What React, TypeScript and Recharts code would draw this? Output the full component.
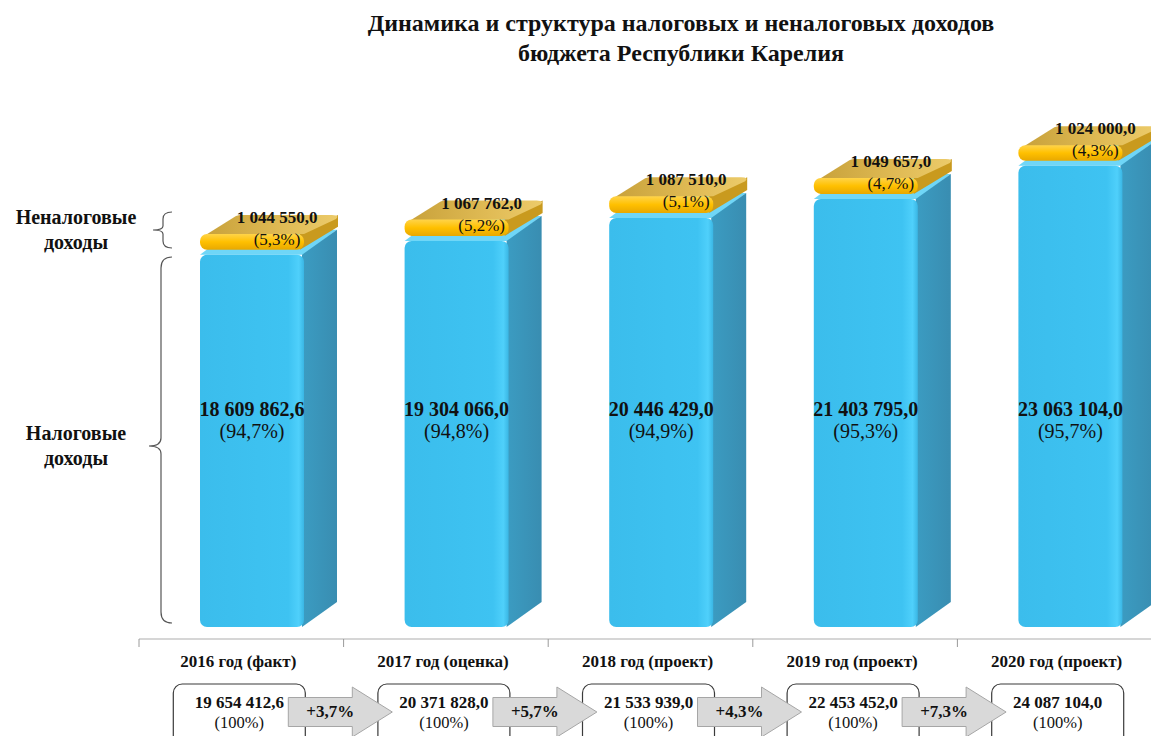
import { BarChart, Bar, XAxis, YAxis, LabelList } from 'recharts';

const categories = ['2016 год (факт)', '2017 год (оценка)', '2018 год (проект)', '2019 год (проект)', '2020 год (проект)'];
const taxIncome = [18609862.6, 19304066.0, 20446429.0, 21403795.0, 23063104.0];
const nonTaxIncome = [1044550.0, 1067762.0, 1087510.0, 1049657.0, 1024000.0];
const taxShare = [94.7, 94.8, 94.9, 95.3, 95.7];
const nonTaxShare = [5.3, 5.2, 5.1, 4.7, 4.3];
const totals = [19654412.6, 20371828.0, 21533939.0, 22453452.0, 24087104.0];
const growth = [3.7, 5.7, 4.3, 7.3];

const data = categories.map((name, i) => ({
  name,
  tax: taxIncome[i],
  nonTax: nonTaxIncome[i],
}));

const CHART_W = 1162;
const CHART_H = 736;
const MARGIN = { top: 39, right: 0, left: 139, bottom: 0 };
const BAND = (CHART_W - MARGIN.left - MARGIN.right) / categories.length;

// 3D projection offsets
const SHIFT_X = 11;
const SHIFT_Y = -12;
const DX = 33;
const DY = -25;

const SERIF = '"Liberation Serif", "Times New Roman", serif';

const fmt = (v: number) => {
  const [i, d] = v.toFixed(1).split('.');
  return i.replace(/\B(?=(\d{3})+(?!\d))/g, ' ') + ',' + d;
};
const pct = (v: number) => `(${v.toFixed(1).replace('.', ',')}%)`;

function TaxShape(props: any) {
  const { x, y, width, height } = props;
  if (height <= 0) return null;
  const fx = x + SHIFT_X;
  const fy = y + SHIFT_Y;
  const w = width;
  const h = height;
  return (
    <g>
      <polygon
        points={`${fx},${fy} ${fx + DX},${fy + DY} ${fx + w + DX},${fy + DY} ${fx + w},${fy}`}
        fill='#6fd6f7'
      />
      <polygon
        points={`${fx + w - 2},${fy} ${fx + w + DX},${fy + DY} ${fx + w + DX},${fy + h + DY} ${fx + w - 2},${fy + h}`}
        fill='url(#blueSide)'
      />
      <rect x={fx} y={fy} width={w} height={h} rx={7} fill='url(#blueFront)' />
    </g>
  );
}

function NonTaxShape(props: any) {
  const { x, y, width, height } = props;
  if (height <= 0) return null;
  const fx = x + SHIFT_X;
  const fy = y + SHIFT_Y;
  const w = width;
  const fh = height - 5;
  const gdx = 34;
  const gdy = -19;
  return (
    <g>
      <polygon
        points={`${fx + w - 4},${fy} ${fx + w + gdx},${fy + gdy} ${fx + w + gdx},${fy + gdy + fh - 4} ${fx + w - 4},${fy + fh}`}
        fill='#c99a1e'
      />
      <path
        d={`M${fx + 4},${fy + 2} L${fx + gdx + 2},${fy + gdy + 1} Q${fx + gdx + 4},${fy + gdy} ${fx + gdx + 8},${fy + gdy} L${fx + w + gdx - 6},${fy + gdy} Q${fx + w + gdx + 2},${fy + gdy} ${fx + w + gdx - 2},${fy + gdy + 4} L${fx + w},${fy} Z`}
        fill='url(#goldTop)'
      />
      <rect x={fx} y={fy} width={w} height={fh} rx={7} fill='url(#goldFront)' />
    </g>
  );
}

function TaxLabel(props: any) {
  const { x, width, index } = props;
  const cx = x + SHIFT_X + width / 2;
  return (
    <g fontFamily={SERIF} textAnchor='middle' fill='#111'>
      <text x={cx} y={416} fontSize={20} fontWeight='bold'>
        {fmt(taxIncome[index])}
      </text>
      <text x={cx} y={438} fontSize={20}>
        {pct(taxShare[index])}
      </text>
    </g>
  );
}

function NonTaxLabel(props: any) {
  const { x, y, width, index } = props;
  const cx = x + SHIFT_X + width / 2 + 25;
  const fy = y + SHIFT_Y;
  return (
    <g fontFamily={SERIF} textAnchor='middle' fill='#111'>
      <text x={cx} y={fy - 11} fontSize={17} fontWeight='bold'>
        {fmt(nonTaxIncome[index])}
      </text>
      <text x={cx} y={fy + 11} fontSize={17}>
        {pct(nonTaxShare[index])}
      </text>
    </g>
  );
}

function CategoryTick(props: any) {
  const { x, y, payload } = props;
  const i = payload.index;
  const c = x;
  const left = c - BAND / 2;
  const prev = c - BAND;
  const ay = y + 73;
  const start = prev + 47;
  const headStart = prev + 111;
  const tip = prev + 151;
  return (
    <g fontFamily={SERIF}>
      <line x1={left} y1={y} x2={left} y2={y + 8} stroke='#9a9a9a' />
      {i === categories.length - 1 && (
        <line x1={left + BAND} y1={y} x2={left + BAND} y2={y + 8} stroke='#9a9a9a' />
      )}
      <text x={c - 3} y={y + 28} textAnchor='middle' fontSize={17} fontWeight='bold' fill='#111'>
        {payload.value}
      </text>
      <rect x={c - 68} y={y + 45} width={132} height={70} rx={9} fill='#fff' stroke='#3a3a3a' strokeWidth={1.2} />
      <text x={c - 2} y={y + 69} textAnchor='middle' fontSize={17} fontWeight='bold' fill='#111'>
        {fmt(totals[i])}
      </text>
      <text x={c - 2} y={y + 89} textAnchor='middle' fontSize={16.5} fill='#111'>
        (100%)
      </text>
      {i > 0 && (
        <g>
          <polygon
            points={`${start},${ay - 14.5} ${headStart},${ay - 14.5} ${headStart},${ay - 25} ${tip},${ay} ${headStart},${ay + 25} ${headStart},${ay + 14.5} ${start},${ay + 14.5}`}
            fill='#d9d9d9'
            stroke='#a6a6a6'
            strokeWidth={1}
          />
          <text x={prev + 89} y={ay + 5} textAnchor='middle' fontSize={17} fontWeight='bold' fill='#111'>
            {`+${growth[i - 1].toFixed(1).replace('.', ',')}%`}
          </text>
        </g>
      )}
    </g>
  );
}

export default function App() {
  return (
    <div style={{ position: 'absolute', left: 0, top: 0, width: 1151, height: 736, overflow: 'hidden', background: '#fff' }}>
      <BarChart width={CHART_W} height={CHART_H} data={data} margin={MARGIN} barSize={104}>
        <defs>
          <linearGradient id='blueFront' x1='0' y1='0' x2='1' y2='0'>
            <stop offset='0%' stopColor='#3bbdec' />
            <stop offset='85%' stopColor='#3ec3f2' />
            <stop offset='95%' stopColor='#4fd0fb' />
            <stop offset='100%' stopColor='#3ab6e4' />
          </linearGradient>
          <linearGradient id='blueSide' x1='0' y1='0' x2='1' y2='0'>
            <stop offset='0%' stopColor='#3b9cc2' />
            <stop offset='100%' stopColor='#398db1' />
          </linearGradient>
          <linearGradient id='goldFront' x1='0' y1='0' x2='0' y2='1'>
            <stop offset='0%' stopColor='#ffd44a' />
            <stop offset='50%' stopColor='#ffc000' />
            <stop offset='100%' stopColor='#e8a800' />
          </linearGradient>
          <linearGradient id='goldTop' x1='0' y1='0' x2='1' y2='0'>
            <stop offset='0%' stopColor='#c8a13a' />
            <stop offset='60%' stopColor='#e0bb55' />
            <stop offset='100%' stopColor='#eccb6a' />
          </linearGradient>
        </defs>
        <XAxis
          dataKey='name'
          height={CHART_H - 639}
          axisLine={{ stroke: '#c8c8c8', strokeWidth: 1.5 }}
          tickLine={false}
          tickSize={0}
          tickMargin={0}
          interval={0}
          tick={<CategoryTick />}
        />
        <YAxis hide width={0} domain={[0, 30000000]} />
        <Bar dataKey='tax' stackId='a' shape={<TaxShape />} isAnimationActive={false}>
          <LabelList dataKey='tax' content={<TaxLabel />} />
        </Bar>
        <Bar dataKey='nonTax' stackId='a' shape={<NonTaxShape />} isAnimationActive={false}>
          <LabelList dataKey='nonTax' content={<NonTaxLabel />} />
        </Bar>
      </BarChart>
      <svg
        width={1151}
        height={736}
        style={{ position: 'absolute', left: 0, top: 0, pointerEvents: 'none' }}
        fontFamily={SERIF}
      >
        <text x={681} y={31} textAnchor='middle' fontSize={24} fontWeight='bold' fill='#111'>
          Динамика и структура налоговых и неналоговых доходов
        </text>
        <text x={681} y={61} textAnchor='middle' fontSize={24} fontWeight='bold' fill='#111'>
          бюджета Республики Карелия
        </text>
        <g textAnchor='middle' fontSize={20} fontWeight='bold' fill='#111'>
          <text x={76} y={224}>Неналоговые</text>
          <text x={76} y={249}>доходы</text>
          <text x={76} y={440}>Налоговые</text>
          <text x={76} y={465}>доходы</text>
        </g>
        <g fill='none' stroke='#555' strokeWidth={1.2}>
          <path d='M172,212 Q163,212 163,219 L163,226 Q163,230 153,230 Q163,230 163,234 L163,241 Q163,248 172,248' />
          <path d='M172,257 Q161,257 161,268 L161,438 Q161,446 149,446 Q161,446 161,454 L161,612 Q161,623 172,623' />
        </g>
      </svg>
    </div>
  );
}
